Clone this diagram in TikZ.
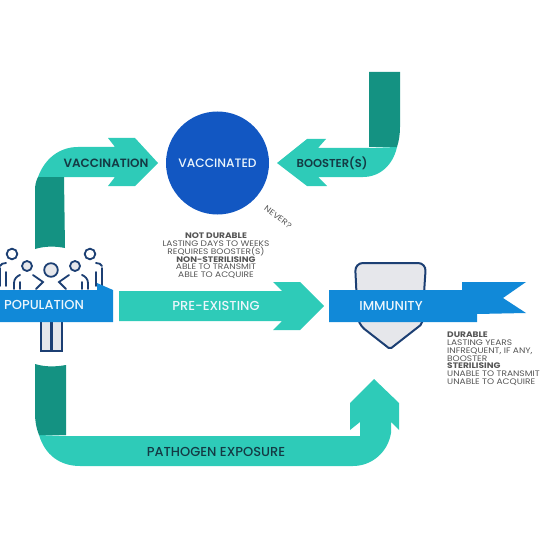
\documentclass[tikz,border=0pt]{standalone}
\usepackage{fontspec}
\setmainfont{Poppins}
\newfontfamily\labelfont{Poppins Medium}
\newfontfamily\strongfont{Poppins SemiBold}
\newfontfamily\notefont[FakeStretch=1.13]{Poppins}
\usepackage{tikz}
\definecolor{mint}{HTML}{2ECBB8}
\definecolor{deepteal}{HTML}{149282}
\definecolor{royal}{HTML}{1257C2}
\definecolor{banner}{HTML}{1189D8}
\definecolor{navy}{HTML}{1C3F73}
\definecolor{shieldgray}{HTML}{E6E7EB}
\definecolor{inkdark}{HTML}{143A44}
\definecolor{notegray}{HTML}{555555}
\tikzset{
  arrowlabel/.style={font=\fontsize{12}{14}\strongfont,text=inkdark,inner sep=0pt},
  lightlabel/.style={font=\fontsize{13}{14}\labelfont,text=white!92!banner,inner sep=0pt},
  notes/.style={font=\fontsize{8}{7.9}\notefont,text=notegray,inner sep=0pt},
  person/.style={draw=navy,line width=1.8pt,line cap=round},
}
\begin{document}
\begin{tikzpicture}[x=1pt,y=-1pt]
\useasboundingbox (0,0) rectangle (540,540);
% upper left arrow
\fill[mint] (38,177) .. controls (45,158) and (60,147) .. (78,147) -- (115,147) -- (108,138) -- (135,138)
  -- (158,163) -- (135,186) -- (108,186) -- (115,177) -- (64,177) -- cycle;
\fill[deepteal] (38,177) -- (64,177) -- (65,248) .. controls (55,246) and (45,246) .. (35,249)
  -- (35,190) .. controls (35,185) and (36,181) .. (38,177) -- cycle;
% upper right arrow
\fill[mint] (369,148) -- (318,148) -- (326,139) -- (307,139) -- (277,163) -- (307,186) -- (327,186) -- (318,177)
  -- (363,177) .. controls (380,177) and (393,165) .. (397,147) -- cycle;
\fill[deepteal] (369,72) -- (400,72) -- (400,127) .. controls (400,134) and (399,141) .. (397,147) -- (369,147) -- cycle;
\node[circle,fill=royal,minimum size=103pt,inner sep=0pt] (vaccinated) at (217.5,163) {};
\node[lightlabel,font=\fontsize{12.2}{14}\labelfont] (vaccinatedtext) at (217.5,163) {VACCINATED};
\node[arrowlabel] (vaccination) at (106,163) {VACCINATION};
\node[arrowlabel,font=\fontsize{11.5}{14}\strongfont] (booster) at (332,163) {BOOSTER(S)};
\node[notes,rotate=-37] (never) at (278,217) {NEVER?};
\node[notes,align=center,anchor=north] (notdurable) at (216,232.5)
  {\textbf{NOT DURABLE}\\LASTING DAYS TO WEEKS\\REQUIRES BOOSTER(S)\\\textbf{NON-STERILISING}\\ABLE TO TRANSMIT\\ABLE TO ACQUIRE};
% population
\foreach \x in {41,52} { \draw[person,fill=shieldgray,line width=1.5pt] (\x,318) -- (\x,351) -- (\x+10,351) -- (\x+10,318); }
\foreach \m/\o in {1/0,-1/102} {
  \begin{scope}[shift={(\o,0)},xscale=\m]
    \draw[person] (12,254) circle (5.3);
    \draw[person,fill=shieldgray] (27,266) circle (5);
    \draw[person] (0,266) .. controls (1,264) and (3,263) .. (6,263);
    \draw[person] (6,272) -- (6,286);
    \draw[person] (0,268) -- (0,286);
    \draw[person] (14,289) -- (14,283) .. controls (14,279) and (17,276) .. (20,275);
    \draw[person] (20,282) -- (20,289);
    \draw[person] (33,275) -- (43,282) -- (36,289);
  \end{scope}
}
\draw[person,fill=shieldgray] (51,270) circle (6.8);
\fill[banner] (0,290) -- (97,290) -- (97,283) -- (113,290) -- (113,322) -- (0,322) -- cycle;
\node[lightlabel] (population) at (44,305) {POPULATION};
% middle arrow
\fill[mint] (119,291) -- (282,291) -- (273,282) -- (300,282) -- (324,306) -- (300,330) -- (273,330) -- (282,321) -- (119,321) -- cycle;
\node[lightlabel] (preexisting) at (216,306) {PRE-EXISTING};
% immunity
\draw[navy,line width=2pt,fill=shieldgray,rounded corners=2pt] (358,324) -- (390,349) -- (422,324)
  [rounded corners=8pt] -- (426,263) -- (355,263) -- cycle;
\fill[banner] (329,290) -- (462,290) -- (462,282) -- (526,282) -- (503,298) -- (526,313) -- (477,314) -- (477,322) -- (329,322) -- cycle;
\node[lightlabel] (immunity) at (391,306) {IMMUNITY};
\node[notes,align=left,anchor=north west] (durable) at (447,331.5)
  {\textbf{DURABLE}\\LASTING YEARS\\INFREQUENT, IF ANY,\\BOOSTER\\\textbf{STERILISING}\\UNABLE TO TRANSMIT\\UNABLE TO ACQUIRE};
% lower arrow
\fill[mint] (39,435) .. controls (45,455) and (60,466) .. (80,466) -- (353,466) .. controls (372,466) and (388,452) .. (391,433)
  -- (391,422) -- (399,430) -- (399,403) -- (374,379) -- (350,403) -- (350,430) -- (360,422) -- (360,436) -- (66,436) -- cycle;
\fill[deepteal] (35,364) .. controls (45,367) and (55,367) .. (66,365) -- (66,435) -- (39,435)
  .. controls (36,428) and (35,420) .. (35,413) -- cycle;
\node[arrowlabel,font=\fontsize{13}{14}\labelfont] (exposure) at (216,452) {PATHOGEN EXPOSURE};
\end{tikzpicture}
\end{document}
